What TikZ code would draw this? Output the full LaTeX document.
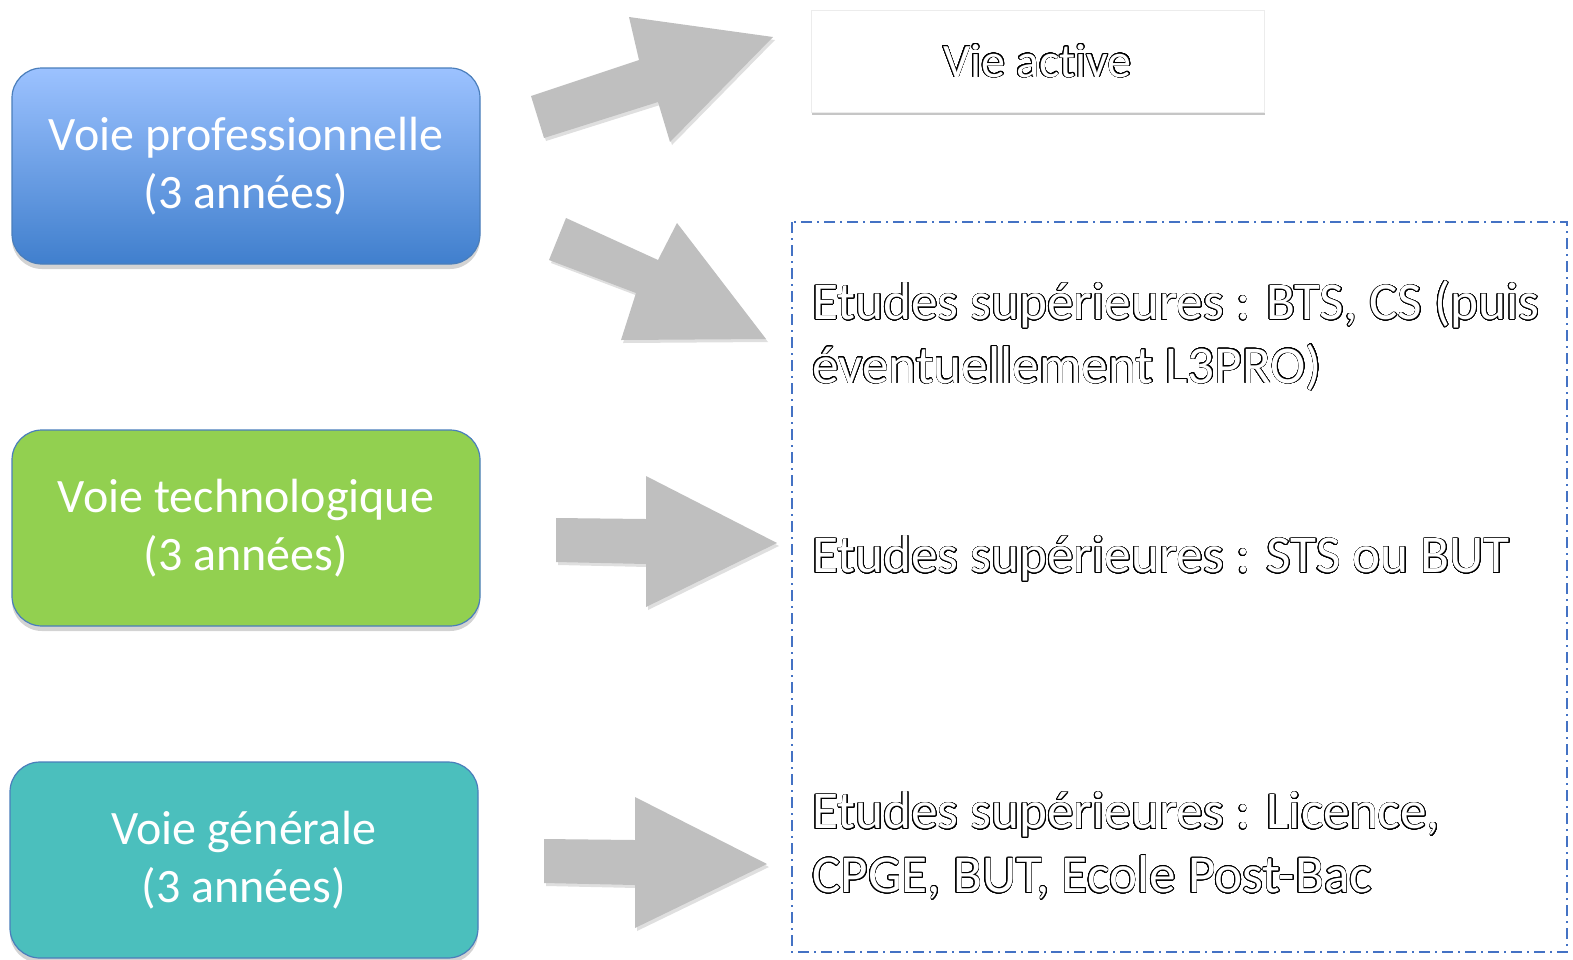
\documentclass[tikz,border=0pt]{standalone}
\usepackage{fontspec}
\setmainfont[Ligatures={NoCommon}]{Carlito}
\usepackage{xcolor}
\usepackage[copies]{contour}
\usetikzlibrary{shadows}
\contourlength{0.32pt}
\contournumber{32}

\definecolor{protop}{RGB}{156,194,255}
\definecolor{probot}{RGB}{64,127,205}
\definecolor{technofill}{RGB}{146,208,80}
\definecolor{genfill}{RGB}{75,191,189}
\definecolor{boxline}{RGB}{74,126,187}
\definecolor{arrowgray}{RGB}{191,191,191}
\definecolor{dashblue}{RGB}{68,114,196}

\newcommand{\outl}[1]{\contour{black}{\textcolor{white}{#1}}}

\tikzset{
  voie/.style={rounded corners=15pt, draw=boxline, line width=0.6pt,
    minimum width=234pt, minimum height=98pt, text=white, align=center,
    font=\fontsize{24}{28.8}\selectfont,
    drop shadow={opacity=0.35, shadow xshift=0pt, shadow yshift=-2.5pt}},
  bigarrow/.style={fill=arrowgray,
    drop shadow={opacity=0.25, shadow xshift=1pt, shadow yshift=-1.5pt}},
  suptext/.style={anchor=west, align=left, inner sep=0pt,
    font=\fontsize{26.6}{31.8}\selectfont}
}

\begin{document}
\begin{tikzpicture}[x=0.5pt,y=-0.5pt]
    \useasboundingbox (0,0) rectangle (1573,959);

    % left boxes
    \node[voie, top color=protop, bottom color=probot] (pro) at (246,166)
        {Voie professionnelle\\(3 années)};
    \node[voie, fill=technofill] (techno) at (246,528)
        {Voie technologique\\(3 années)};
    \node[voie, fill=genfill] (gen) at (244,860)
        {Voie générale\\(3 années)};

    % Vie active
    \node[fill=white, draw=gray!15, minimum width=226.5pt, minimum height=51pt,
        font=\fontsize{24}{28.8}\selectfont,
        drop shadow={opacity=0.45, shadow xshift=0.5pt, shadow yshift=-1.5pt}]
        (vie) at (1037.5,61) {\outl{Vie active}};

    % dashed box
    \draw[dashblue, line width=0.8pt,
        dash pattern=on 5.5pt off 2.5pt on 1pt off 2.5pt]
        (792,222) rectangle (1567,952);
    \node[suptext] (supa) at (812,336)
        {\outl{Etudes supérieures : BTS, CS (puis}\\\outl{éventuellement L3PRO)}};
    \node[suptext] (supb) at (812,559)
        {\outl{Etudes supérieures : STS ou BUT}};
    \node[suptext] (supc) at (812,846)
        {\outl{Etudes supérieures : Licence,}\\\outl{CPGE, BUT, Ecole Post-Bac}};

    % block arrows
    \fill[bigarrow] (531,96) -- (639,60) -- (629,17) -- (773,37)
        -- (670,142) -- (658,102) -- (544,138) -- cycle;
    \fill[bigarrow] (566,218) -- (658,260) -- (677,223) -- (766,339)
        -- (621,340) -- (636,293) -- (549,260) -- cycle;
    \fill[bigarrow] (556,518) -- (646,519) -- (646,476) -- (777,543)
        -- (646,607) -- (646,564) -- (556,562) -- cycle;
    \fill[bigarrow] (544,839) -- (635,840) -- (635,797) -- (767,864)
        -- (635,928) -- (635,885) -- (544,883) -- cycle;

\end{tikzpicture}
\end{document}
